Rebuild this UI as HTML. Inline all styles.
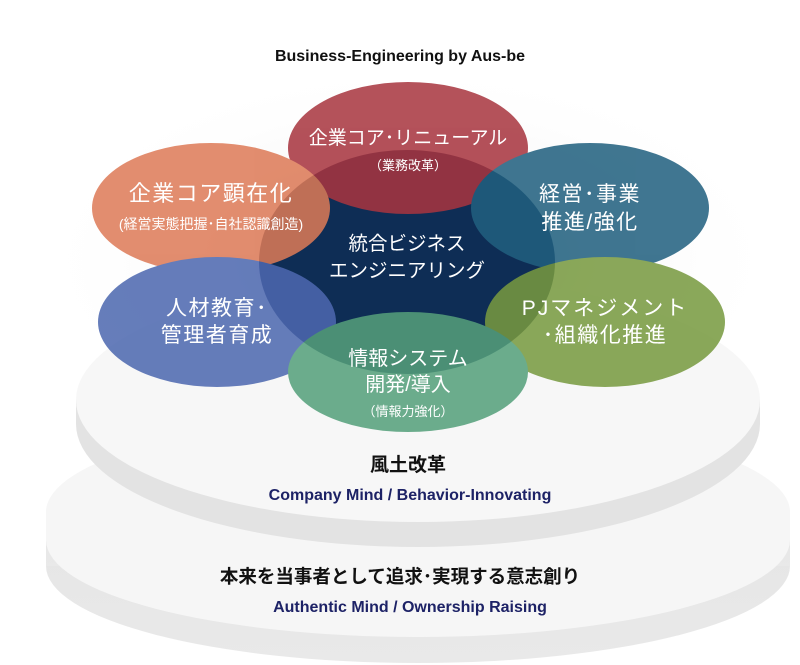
<!DOCTYPE html>
<html><head><meta charset="utf-8"><style>
html,body{margin:0;padding:0;background:#fff;}
svg{display:block}
text{font-family:"Liberation Sans","Noto Sans CJK JP",sans-serif;}
.w{fill:#fff;text-anchor:middle;}
.n{font-family:"Liberation Sans Narrow","Liberation Sans",sans-serif;font-weight:bold;text-anchor:middle;}
</style></head><body>
<svg width="800" height="665" viewBox="0 0 800 665" xmlns="http://www.w3.org/2000/svg">
<defs>
<radialGradient id="glow" cx="50%" cy="50%" r="50%">
<stop offset="0" stop-color="#e6e6e6"/><stop offset="1" stop-color="#fff" stop-opacity="0"/>
</radialGradient>
<linearGradient id="edge" x1="0" y1="0" x2="0" y2="1">
<stop offset="0" stop-color="#e4e4e4"/><stop offset="1" stop-color="#e9e9e9"/>
</linearGradient>
</defs>
<ellipse cx="410" cy="260" rx="380" ry="200" fill="url(#glow)"/>
<!-- lower disc -->
<ellipse cx="418" cy="566" rx="372" ry="97" fill="url(#edge)"/>
<rect x="46" y="512" width="744" height="54" fill="url(#edge)"/>
<ellipse cx="418" cy="540" rx="372" ry="97" fill="#f6f6f6"/>
<ellipse cx="418" cy="512" rx="372" ry="97" fill="#f6f6f6"/>
<rect x="46" y="512" width="744" height="28" fill="#f6f6f6"/>
<!-- upper disc -->
<ellipse cx="418" cy="424" rx="342" ry="123" fill="#e3e3e3"/>
<rect x="76" y="400" width="684" height="24" fill="#e3e3e3"/>
<ellipse cx="418" cy="400" rx="342" ry="122" fill="#f7f7f7"/>
<!-- center -->
<ellipse cx="407" cy="262" rx="148" ry="112" fill="#0e2d55"/>
<g opacity="0.86">
<ellipse cx="408" cy="148" rx="120" ry="66" fill="#a8353f"/>
<ellipse cx="211" cy="208" rx="119" ry="65" fill="#dd7a57"/>
<ellipse cx="590" cy="208" rx="119" ry="65" fill="#21607f"/>
<ellipse cx="217" cy="322" rx="119" ry="65" fill="#4d68b0"/>
<ellipse cx="605" cy="322" rx="120" ry="65" fill="#789a40"/>
<ellipse cx="408" cy="372" rx="120" ry="60" fill="#55a07b"/>
</g>
<text class="n" x="400" y="61" font-size="16" fill="#111">Business-Engineering by Aus-be</text>
<g class="w">
<text x="408" y="144" font-size="19">企業コア･リニューアル</text>
<text x="408" y="170" font-size="13">（業務改革）</text>
<text x="211" y="201" font-size="22" letter-spacing="1.5">企業コア顕在化</text>
<text x="211" y="229" font-size="14">(経営実態把握･自社認識創造)</text>
<text x="590" y="201" font-size="21" letter-spacing="1.5">経営･事業</text>
<text x="590" y="229" font-size="21" letter-spacing="1.5">推進/強化</text>
<text x="407" y="250" font-size="19.5">統合ビジネス</text>
<text x="407" y="277" font-size="19.5">エンジニアリング</text>
<text x="217" y="315" font-size="21" letter-spacing="1.5">人材教育･</text>
<text x="217" y="342" font-size="21" letter-spacing="1.5">管理者育成</text>
<text x="605" y="315" font-size="21" letter-spacing="2">PJマネジメント</text>
<text x="605" y="342" font-size="21" letter-spacing="1.5">･組織化推進</text>
<text x="408" y="365" font-size="20">情報システム</text>
<text x="408" y="391" font-size="20">開発/導入</text>
<text x="408" y="416" font-size="13">（情報力強化）</text>
</g>
<text x="408" y="471" font-size="19" font-weight="bold" text-anchor="middle" fill="#111">風土改革</text>
<text class="n" x="410" y="500" font-size="16" fill="#1d2266">Company Mind / Behavior-Innovating</text>
<text x="400" y="583" font-size="18.5" font-weight="bold" text-anchor="middle" fill="#111">本来を当事者として追求･実現する意志創り</text>
<text class="n" x="410" y="612" font-size="16" fill="#1d2266">Authentic Mind / Ownership Raising</text>
</svg>
</body></html>
